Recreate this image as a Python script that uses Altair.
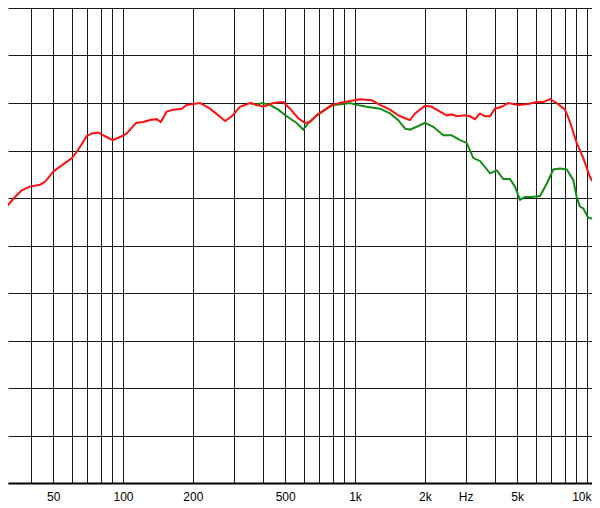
import altair as alt
import pandas as pd

# Red curve (on-axis response)
red_freq = [29.5, 31.5, 34.2, 36.6, 39.7, 43.9, 46.1, 50.1, 53.5, 60.2, 64.2, 69.7, 73.3, 78.3,
            83.6, 90.3, 98.7, 103.7, 113.8, 122.4, 130.7, 139.7, 145.4, 154.3, 164.7, 179.1,
            188.2, 200.9, 214.7, 237.1, 257.5, 275.3, 294.1, 319.3, 352.7, 377.0, 402.4, 444.4,
            490.8, 524.5, 569.5, 608.7, 639.7, 683.8, 742.4, 793.6, 861.7, 951.5, 1051, 1180,
            1282, 1416, 1537, 1643, 1726, 1814, 2003, 2141, 2325, 2485, 2611, 2744, 2980, 3131,
            3290, 3457, 3633, 3818, 4012, 4289, 4579, 5057, 5585, 6070, 6480, 6925, 7403, 8039,
            8447, 9029, 9641, 10300, 11380]
red_db = [78.1, 79.1, 80.1, 80.8, 81.2, 81.4, 81.7, 82.8, 83.3, 84.2, 85.1, 86.5, 86.8, 86.9,
          86.5, 86.1, 86.5, 86.8, 87.9, 88.0, 88.2, 88.3, 88.0, 89.1, 89.3, 89.4,
          89.8, 89.9, 90.0, 89.4, 88.7, 88.1, 88.6, 89.6, 90.0, 89.8, 89.6, 90.0,
          90.1, 89.4, 88.4, 87.9, 88.0, 88.7, 89.3, 89.8, 90.0, 90.2, 90.4, 90.3,
          89.8, 89.3, 88.7, 88.4, 88.2, 88.9, 89.7, 89.6, 89.1, 88.7, 88.8, 88.6, 88.7, 88.6,
          88.3, 88.9, 88.6, 88.6, 89.4, 89.6, 90.0, 89.8, 89.9, 90.1, 90.1, 90.4, 90.0, 89.3,
          88.0, 85.8, 84.2, 82.2, 80.5]

# Green curve (off-axis response)
green_freq = [352.7, 377.0, 396.2, 430.1, 467.0, 507.7, 560.7, 598.6, 629.1, 683.8, 755.1, 806.2,
              890.3, 951.5, 1017, 1123, 1282, 1416, 1537, 1643, 1726, 1845, 2003, 2175, 2402,
              2611, 2835, 3030, 3236, 3457, 3818, 4081, 4357, 4657, 4894, 5143, 5405, 5776,
              6272, 6705, 7157, 7649, 8177, 8728, 9029, 9328, 9641, 10130, 11380]
green_db = [90.0, 89.8, 90.0, 89.8, 89.3, 88.6, 87.9, 87.2, 87.9, 88.7, 89.4, 89.8,
            89.9, 90.0, 89.8, 89.6, 89.4, 88.9, 88.2, 87.3, 87.2, 87.5, 87.9, 87.5, 86.6,
            86.6, 86.1, 85.8, 84.2, 83.9, 82.6, 82.9, 82.0, 82.0, 81.2, 79.8, 80.1, 80.1,
            80.2, 81.5, 83.0, 83.1, 83.0, 81.9, 80.1, 79.1, 78.9, 77.9, 77.7]

# Axis grid and labels
grid_freqs = [40, 50, 60, 70, 80, 90, 100, 200, 300, 400, 500, 600, 700, 800, 900,
              1000, 2000, 3000, 4000, 5000, 6000, 7000, 8000, 9000, 10000]
label_freqs = [50, 100, 200, 500, 1000, 2000, 3000, 5000, 10000]
label_texts = ["50", "100", "200", "500", "1k", "2k", "Hz", "5k", "10k"]
db_grid = [50, 55, 60, 65, 70, 75, 80, 85, 90, 95, 100]

x_domain = [31.93, 10510]
y_domain = [50, 100]

label_expr = "".join(f"datum.value == {f} ? '{t}' : " for f, t in zip(label_freqs, label_texts)) + "''"
last_test = f"datum.value == {label_freqs[-1]}"

red_df = pd.DataFrame({"freq": red_freq, "db": red_db})
green_df = pd.DataFrame({"freq": green_freq, "db": green_db})

xscale = alt.Scale(type="log", domain=x_domain, nice=False, zero=False)
yscale = alt.Scale(domain=y_domain, nice=False, zero=False)

xaxis = alt.Axis(values=grid_freqs, labelExpr=label_expr, title=None, grid=True,
                 gridColor="#1a1a1a", gridWidth=1, gridOpacity=1,
                 ticks=False, domain=True, domainColor="#000", domainWidth=2,
                 labelFont="Liberation Sans", labelFontSize=12, labelColor="#000",
                 labelPadding=8, labelOverlap=False, labelFlush=False,
                 labelAlign={"condition": {"test": last_test, "value": "right"}, "value": "center"},
                 labelOffset={"condition": {"test": last_test, "value": 4}, "value": 0})
yaxis = alt.Axis(values=db_grid, title=None, grid=True, gridColor="#1a1a1a", gridWidth=1,
                 gridOpacity=1, labels=False, ticks=False, domain=False)

green = alt.Chart(green_df).mark_line(color="#138a13", strokeWidth=2, clip=True).encode(
    x=alt.X("freq:Q", scale=xscale, axis=xaxis),
    y=alt.Y("db:Q", scale=yscale, axis=yaxis),
)
red = alt.Chart(red_df).mark_line(color="#ff1010", strokeWidth=2, clip=True).encode(
    x=alt.X("freq:Q", scale=xscale),
    y=alt.Y("db:Q", scale=yscale),
)

chart = alt.layer(green, red).properties(
    width=584, height=475,
    autosize=alt.AutoSizeParams(type="none"),
    padding={"left": 0, "top": 0, "right": 0, "bottom": 20},
    background="white",
).configure_view(stroke=None)

chart.save("out.html", embed_options={"renderer": "svg", "actions": False})
